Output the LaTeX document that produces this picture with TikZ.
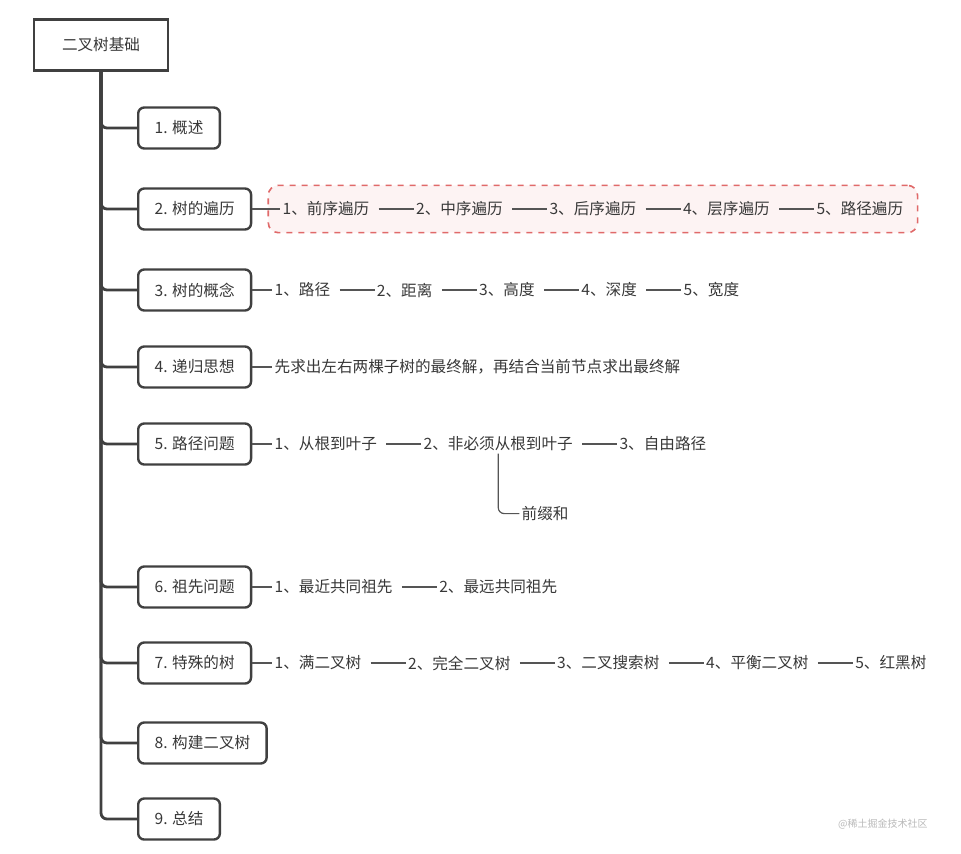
\documentclass[tikz,border=0pt]{standalone}
\usepackage{fontspec}
\setmainfont{Noto Sans CJK SC}
\usepackage{xcolor}
\usepackage{tikz}
\usetikzlibrary{positioning,fit,backgrounds}

\definecolor{inkgray}{HTML}{383838}
\definecolor{boxline}{HTML}{404040}
\definecolor{linkgray}{HTML}{555555}
\definecolor{hlred}{HTML}{E06A6A}
\definecolor{hlfill}{HTML}{FDF3F3}

\begin{document}
\begin{tikzpicture}[
		x=0.5pt, y=-0.5pt,
		font=\fontsize{7.8}{10}\selectfont, text=inkgray,
		node distance=21pt,
		rootbox/.style={draw=boxline, line width=1.3pt, fill=white, minimum width=67pt, minimum height=25.5pt},
		topic/.style={draw=boxline, line width=1.2pt, rounded corners=3pt, fill=white, minimum height=20.5pt, inner xsep=8.2pt, anchor=west},
		item/.style={inner sep=1pt},
		trunk/.style={draw=boxline, line width=1.4pt, rounded corners=3pt},
		link/.style={draw=linkgray, line width=0.6pt},
		chain/.style={link, shorten <=3.5pt},
		highlight/.style={draw=hlred, dashed, line width=0.8pt, fill=hlfill, rounded corners=5pt, inner xsep=6pt, inner ysep=7pt},
		wmark/.style={font=\fontsize{5}{6}\selectfont, text=gray!55}
		]
		\useasboundingbox (0,0) rectangle (961,853);
		
		% Root and main topics
		\node[rootbox] (root) at (101,45) {二叉树基础};
		\node[topic] (b1) at (137,128) {1. 概述};
		\node[topic] (b2) at (137,209) {2. 树的遍历};
		\node[topic] (b3) at (137,290) {3. 树的概念};
		\node[topic] (b4) at (137,367) {4. 递归思想};
		\node[topic] (b5) at (137,444) {5. 路径问题};
		\node[topic] (b6) at (137,587) {6. 祖先问题};
		\node[topic] (b7) at (137,663) {7. 特殊的树};
		\node[topic] (b8) at (137,743) {8. 构建二叉树};
		\node[topic] (b9) at (137,819) {9. 总结};
		
		% Row 2: traversals (highlighted)
		\node[item, right=14pt of b2] (t21) {1、前序遍历};
		\node[item, right=of t21] (t22) {2、中序遍历};
		\node[item, right=of t22] (t23) {3、后序遍历};
		\node[item, right=of t23] (t24) {4、层序遍历};
		\node[item, right=of t24] (t25) {5、路径遍历};
		\begin{pgfonlayer}{background}
			\node[highlight, fit=(t21)(t25)] (hl) {};
		\end{pgfonlayer}
		
		% Row 3: concepts
		\node[item, right=10pt of b3] (t31) {1、路径};
		\node[item, right=of t31] (t32) {2、距离};
		\node[item, right=of t32] (t33) {3、高度};
		\node[item, right=of t33] (t34) {4、深度};
		\node[item, right=of t34] (t35) {5、宽度};
		
		% Row 4: recursion
		\node[item, right=10pt of b4] (t41) {先求出左右两棵子树的最终解，再结合当前节点求出最终解};
		
		% Row 5: path problems
		\node[item, right=10pt of b5] (t51) {1、从根到叶子};
		\node[item, right=of t51] (t52) {2、非必须从根到叶子};
		\node[item, right=of t52] (t53) {3、自由路径};
		\node[item, anchor=west] (t5s) at ([xshift=10.5pt, yshift=-30pt]t52.south) {前缀和};
		
		% Row 6: ancestors
		\node[item, right=10pt of b6] (t61) {1、最近共同祖先};
		\node[item, right=of t61] (t62) {2、最远共同祖先};
		
		% Row 7: special trees
		\node[item, right=10pt of b7] (t71) {1、满二叉树};
		\node[item, right=of t71] (t72) {2、完全二叉树};
		\node[item, right=of t72] (t73) {3、二叉搜索树};
		\node[item, right=of t73] (t74) {4、平衡二叉树};
		\node[item, right=of t74] (t75) {5、红黑树};
		
		\node[wmark, anchor=west] (wm) at (831,824) {@稀土掘金技术社区};
		
		% Trunk to each topic
		\begin{pgfonlayer}{background}
			\draw[trunk] (root.south) |- (b1.west);
			\draw[trunk] (root.south) |- (b2.west);
			\draw[trunk] (root.south) |- (b3.west);
			\draw[trunk] (root.south) |- (b4.west);
			\draw[trunk] (root.south) |- (b5.west);
			\draw[trunk] (root.south) |- (b6.west);
			\draw[trunk] (root.south) |- (b7.west);
			\draw[trunk] (root.south) |- (b8.west);
			\draw[trunk] (root.south) |- (b9.west);
		\end{pgfonlayer}
		
		% Item chains
		\draw[link] (b2.east) -- (t21.west);
		\draw[chain] (t21.east) -- (t22.west);
		\draw[chain] (t22.east) -- (t23.west);
		\draw[chain] (t23.east) -- (t24.west);
		\draw[chain] (t24.east) -- (t25.west);
		
		\draw[link] (b3.east) -- (t31.west);
		\draw[chain] (t31.east) -- (t32.west);
		\draw[chain] (t32.east) -- (t33.west);
		\draw[chain] (t33.east) -- (t34.west);
		\draw[chain] (t34.east) -- (t35.west);
		
		\draw[link] (b4.east) -- (t41.west);
		
		\draw[link] (b5.east) -- (t51.west);
		\draw[chain] (t51.east) -- (t52.west);
		\draw[chain] (t52.east) -- (t53.west);
		\draw[link, rounded corners=3pt] (t52.south) |- (t5s.west);
		
		\draw[link] (b6.east) -- (t61.west);
		\draw[chain] (t61.east) -- (t62.west);
		
		\draw[link] (b7.east) -- (t71.west);
		\draw[chain] (t71.east) -- (t72.west);
		\draw[chain] (t72.east) -- (t73.west);
		\draw[chain] (t73.east) -- (t74.west);
		\draw[chain] (t74.east) -- (t75.west);
		
	\end{tikzpicture}
\end{document}
